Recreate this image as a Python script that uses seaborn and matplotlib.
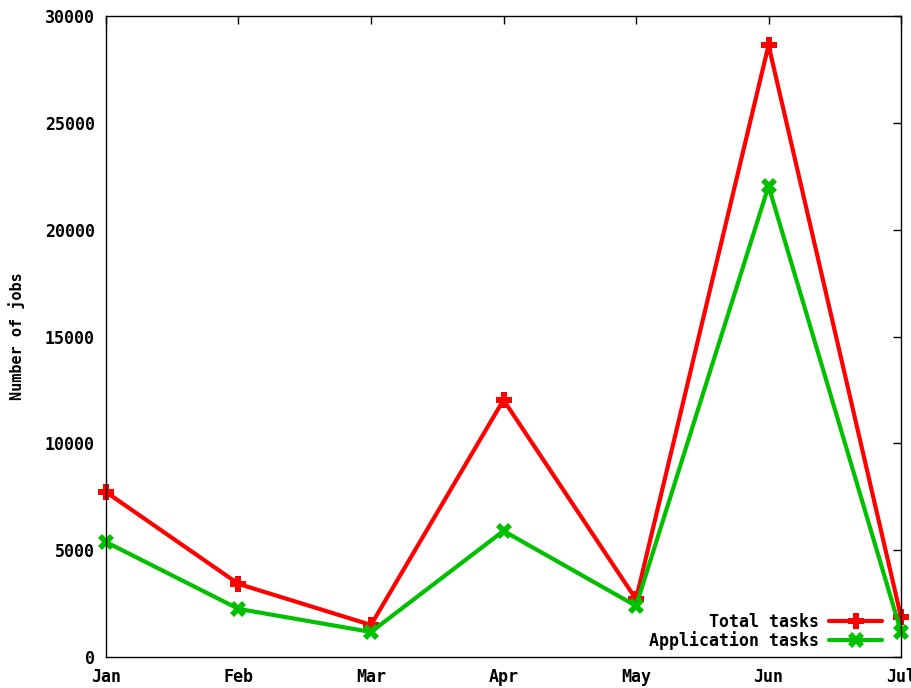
import pandas as pd
import numpy as np
import matplotlib
matplotlib.use("Agg")
import matplotlib.pyplot as plt
import seaborn as sns

months = ["Jan", "Feb", "Mar", "Apr", "May", "Jun", "Jul"]
total_tasks = [7720, 3420, 1500, 12030, 2700, 28640, 1870]
app_tasks = [5380, 2250, 1170, 5900, 2390, 22040, 1170]
y_ticks = [0, 5000, 10000, 15000, 20000, 25000, 30000]

sns.set_theme(style="white")
plt.rcParams['font.family'] = ['DejaVu Sans Mono']
plt.rcParams['font.weight'] = 'bold'
plt.rcParams['text.color'] = 'black'
plt.rcParams['axes.labelcolor'] = 'black'

df = pd.DataFrame({
    "month": list(range(len(months))) * 2,
    "jobs": total_tasks + app_tasks,
    "series": ["Total tasks"] * len(months) + ["Application tasks"] * len(months),
})

fig = plt.figure(figsize=(9.12, 6.88), dpi=100)
ax = fig.add_axes([0.1162, 0.0451, 0.8718, 0.9316])

sns.lineplot(data=df, x="month", y="jobs", hue="series", style="series",
             palette={"Total tasks": "#ff0000", "Application tasks": "#00c000"},
             markers={"Total tasks": "P", "Application tasks": "X"},
             dashes=False, linewidth=3, markersize=11, markeredgewidth=0,
             ax=ax)
for ln in ax.lines:
    ln.set_clip_on(False)

ax.set_xlim(0, len(months) - 1)
ax.set_ylim(0, 30000)
ax.set_xticks(range(len(months)))
ax.set_xticklabels(months)
ax.set_yticks(y_ticks)
ax.set_yticklabels([str(t) for t in y_ticks])
ax.set_xlabel("")
ax.set_ylabel("Number of jobs", fontsize=11, fontweight='bold', labelpad=14)
ax.tick_params(direction='in', length=6, width=1, top=True, right=True,
               labelsize=12, color='black', labelcolor='black', pad=8)
for s in ax.spines.values():
    s.set_color('black')
    s.set_linewidth(1)

leg = ax.legend(loc='lower right', frameon=False, markerfirst=False,
                fontsize=12, handlelength=3.2, handletextpad=0.6,
                borderaxespad=0, labelspacing=0, bbox_to_anchor=(0.985, 0.0))
for t in leg.get_texts():
    t.set_fontweight('bold')
    t.set_color('black')

fig.savefig("out.png", dpi=100)
